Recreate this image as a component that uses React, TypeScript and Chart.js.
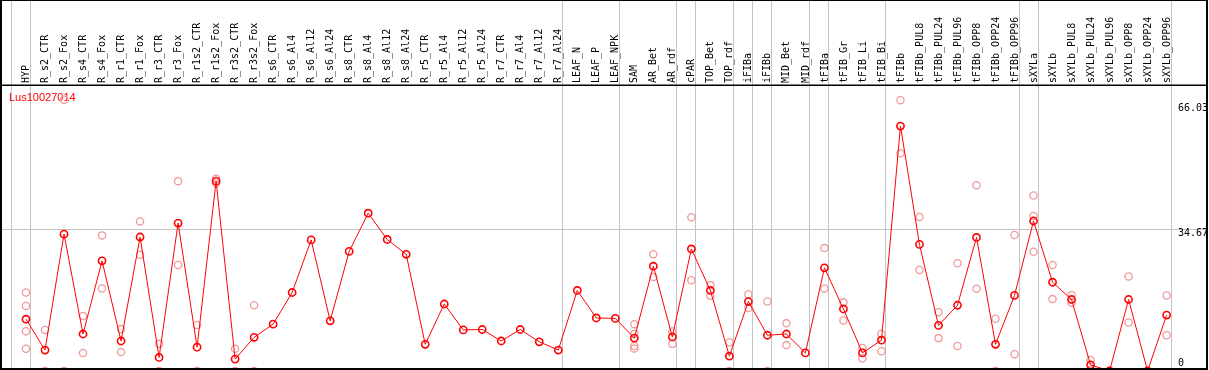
import React, { useEffect, useRef } from "react";
import { Chart, registerables } from "chart.js";

Chart.register(...registerables);

const chartTitle = "Lus10027014";

const categories = [
  "HYP", "R_s2_CTR", "R_s2_Fox", "R_s4_CTR", "R_s4_Fox", "R_r1_CTR", "R_r1_Fox",
  "R_r3_CTR", "R_r3_Fox", "R_r1s2_CTR", "R_r1s2_Fox", "R_r3s2_CTR", "R_r3s2_Fox",
  "R_s6_CTR", "R_s6_Al4", "R_s6_Al12", "R_s6_Al24", "R_s8_CTR", "R_s8_Al4",
  "R_s8_Al12", "R_s8_Al24", "R_r5_CTR", "R_r5_Al4", "R_r5_Al12", "R_r5_Al24",
  "R_r7_CTR", "R_r7_Al4", "R_r7_Al12", "R_r7_Al24", "LEAF_N", "LEAF_P", "LEAF_NPK",
  "SAM", "AR_Bet", "AR_rdf", "cPAR", "TOP_Bet", "TOP_rdf", "iFIBa", "iFIBb",
  "MID_Bet", "MID_rdf", "tFIBa", "tFIB_Gr", "tFIB_Li", "tFIB_Bi", "tFIBb",
  "tFIBb_PUL8", "tFIBb_PUL24", "tFIBb_PUL96", "tFIBb_OPP8", "tFIBb_OPP24",
  "tFIBb_OPP96", "sXYLa", "sXYLb", "sXYLb_PUL8", "sXYLb_PUL24", "sXYLb_PUL96",
  "sXYLb_OPP8", "sXYLb_OPP24", "sXYLb_OPP96",
];

const meanValues = [
  12.6, 5.1, 33.3, 9.0, 26.8, 7.3, 32.6, 3.3, 36.0, 5.8, 46.2, 2.9, 8.2,
  11.4, 19.1, 31.9, 12.2, 29.1, 38.4, 32.0, 28.4, 6.5, 16.3, 10.0, 10.1,
  7.3, 10.1, 7.1, 5.1, 19.6, 12.9, 12.8, 8.0, 25.5, 8.3, 29.7, 19.6, 3.6,
  16.9, 8.7, 9.0, 4.4, 25.1, 15.1, 4.4, 7.5, 59.6, 30.8, 11.1, 16.0, 32.5,
  6.5, 18.4, 36.5, 21.6, 17.4, 1.5, 0, 17.4, 0, 13.6,
];

const replicateValues: number[][] = [
  [19.1, 15.8, 9.7, 5.4], [10.0, 0], [66.03, 0], [13.4, 4.4], [33.0, 20.1],
  [10.2, 4.6], [36.4, 28.3], [6.6, 0], [46.2, 25.8], [11.2, 0], [46.8, 45.7],
  [5.4, 0], [16.0, 0], [], [], [], [], [], [], [], [], [], [], [], [], [], [],
  [], [], [], [], [], [11.4, 9.0, 6.1, 5.5], [28.4, 22.9], [9.6, 6.6],
  [37.4, 22.1], [20.9, 18.3], [7.0, 0], [18.7, 15.3], [16.9, 0], [11.6, 6.3],
  [], [29.9, 20.1], [16.7, 12.3], [5.6, 3.1], [9.0, 4.8], [65.9, 53.0],
  [37.5, 24.6], [14.3, 8.0], [26.2, 6.1], [45.2, 20.0], [12.7, 0], [33.1, 4.1],
  [42.7, 37.7, 29.0], [25.8, 17.5], [18.5, 16.6], [2.7, 0.3], [0, 0],
  [23.0, 11.8], [0, 0], [18.4, 8.7],
];

const yTickValues = [66.03, 34.67, 0];
const yTickLabels = ["66.03", "34.67", "0"];
const yGridValues = [34.67];
// vertical separators are drawn just after these category indices
const groupEndIndices = [-1, 0, 28, 31, 34, 35, 37, 38, 39, 41, 42, 45, 52, 53, 60];

const decorPlugin = {
  id: "decor",
  beforeDatasetsDraw(chart: any) {
    const { ctx, chartArea, scales } = chart;
    const xs = scales.x;
    const ys = scales.y;
    ctx.save();
    ctx.strokeStyle = "#c4c4c4";
    ctx.lineWidth = 1;
    groupEndIndices.forEach((i) => {
      const px = Math.round(xs.getPixelForValue(i + 0.21)) + 0.5;
      ctx.beginPath();
      ctx.moveTo(px, 0);
      ctx.lineTo(px, chart.height);
      ctx.stroke();
    });
    yGridValues.forEach((v) => {
      const py = Math.round(ys.getPixelForValue(v)) + 0.5;
      ctx.beginPath();
      ctx.moveTo(0, py);
      ctx.lineTo(chartArea.right - 2, py);
      ctx.stroke();
    });

    // category labels in header
    ctx.fillStyle = "#000";
    ctx.font = '10px "DejaVu Sans Mono"';
    ctx.textAlign = "left";
    ctx.textBaseline = "middle";
    categories.forEach((c, i) => {
      const px = xs.getPixelForValue(i);
      ctx.save();
      ctx.translate(px + 0.5, chartArea.top - 2);
      ctx.rotate(-Math.PI / 2);
      ctx.fillText(c, 0, 0);
      ctx.restore();
    });

    // y labels
    ctx.textBaseline = "top";
    yTickValues.forEach((v, k) => {
      let py = ys.getPixelForValue(v);
      py = Math.min(Math.max(py, chartArea.top + 18), chartArea.bottom - 12);
      ctx.fillText(yTickLabels[k], chartArea.right - 31, py);
    });

    // title
    ctx.fillStyle = "#ff0000";
    ctx.font = '11px "Liberation Sans"';
    ctx.textBaseline = "alphabetic";
    ctx.fillText(chartTitle, 9, chartArea.top + 16);
    ctx.restore();
  },
  afterDraw(chart: any) {
    const { ctx, chartArea } = chart;
    ctx.save();
    ctx.strokeStyle = "#000";
    ctx.lineWidth = 2;
    ctx.strokeRect(1, 0, chart.width - 3, chart.height - 1);
    ctx.lineWidth = 1.5;
    ctx.beginPath();
    ctx.moveTo(0, chartArea.top + 0.25);
    ctx.lineTo(chart.width - 2, chartArea.top + 0.25);
    ctx.stroke();
    ctx.restore();
  },
};

export default function App() {
  const canvasRef = useRef<HTMLCanvasElement | null>(null);

  useEffect(() => {
    document.body.style.margin = "0";
    document.body.style.overflow = "hidden";
    const canvas = canvasRef.current;
    if (!canvas) return;

    const meanPoints = meanValues.map((v, i) => ({ x: i, y: v }));
    const repPoints: { x: number; y: number }[] = [];
    replicateValues.forEach((arr, i) => arr.forEach((v) => repPoints.push({ x: i, y: v })));

    const chart = new Chart(canvas, {
      type: "line",
      data: {
        datasets: [
          {
            label: "mean",
            data: meanPoints,
            borderColor: "#ff0000",
            borderWidth: 1,
            pointRadius: 3.6,
            pointBorderWidth: 1.6,
            pointBorderColor: "#ff0000",
            pointBackgroundColor: "rgba(0,0,0,0)",
            tension: 0,
            fill: false,
          },
          {
            label: "replicates",
            data: repPoints,
            showLine: false,
            borderColor: "#f0a0a0",
            pointRadius: 3.6,
            pointBorderWidth: 1.3,
            pointBorderColor: "#f09a9a",
            pointBackgroundColor: "rgba(0,0,0,0)",
            fill: false,
          },
        ],
      },
      options: {
        responsive: false,
        animation: false,
        events: [],
        layout: { autoPadding: false, padding: { top: 85, left: 0, right: 0, bottom: 0 } },
        plugins: {
          legend: { display: false },
          tooltip: { enabled: false },
          title: { display: false },
        },
        scales: {
          x: { type: "linear", display: false, min: -1.3677, max: 62.23 },
          y: { type: "linear", display: false, min: 0.243, max: 69.59 },
        },
      },
      plugins: [decorPlugin],
    });

    return () => {
      chart.destroy();
    };
  }, []);

  return (
    <div style={{ width: 1209, height: 370 }}>
      <canvas ref={canvasRef} width={1209} height={370} style={{ display: "block" }} />
    </div>
  );
}
